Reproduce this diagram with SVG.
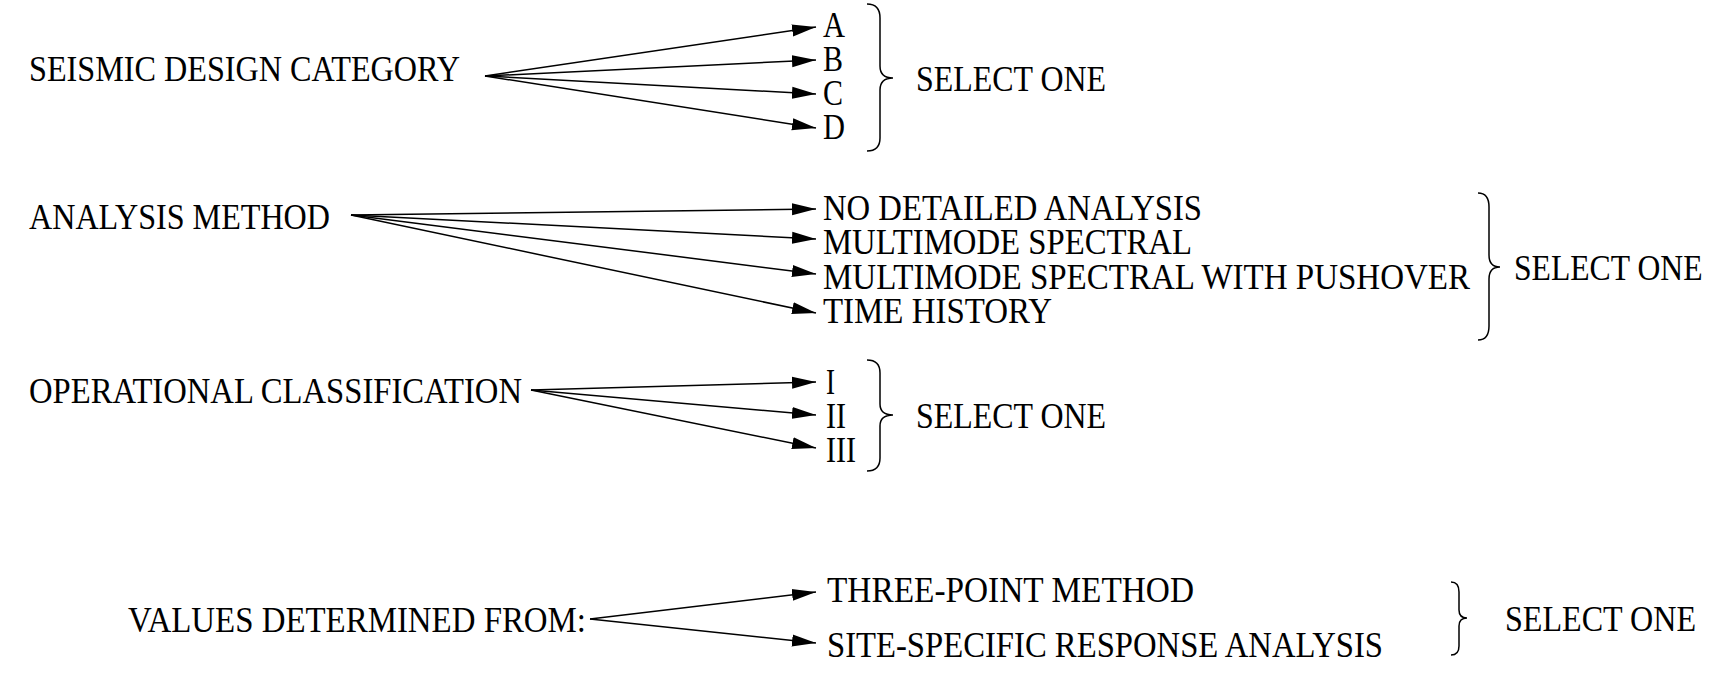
<svg xmlns="http://www.w3.org/2000/svg" width="1710" height="674" viewBox="0 0 1710 674">
<style>
text{font-family:"Liberation Serif","DejaVu Serif",serif;font-size:35px;fill:#000}
.c line{stroke:#000;stroke-width:1.5;fill:none}
.br{stroke:#000;stroke-width:1.5;fill:none}
</style>
<defs>
<marker id="ah" markerUnits="userSpaceOnUse" markerWidth="25" markerHeight="13" refX="24" refY="6.5" orient="auto">
<path d="M0,0.5 L24,6.5 L0,12.5 z" fill="#000"/>
</marker>
</defs>
<rect width="1710" height="674" fill="#fff"/>

<g id="connectors" class="c">
<line x1="485" y1="76" x2="816" y2="27" marker-end="url(#ah)"/>
<line x1="485" y1="76" x2="816" y2="60" marker-end="url(#ah)"/>
<line x1="485" y1="76" x2="816" y2="94" marker-end="url(#ah)"/>
<line x1="485" y1="76" x2="816" y2="128" marker-end="url(#ah)"/>
<line x1="351" y1="215" x2="816" y2="209" marker-end="url(#ah)"/>
<line x1="351" y1="215" x2="816" y2="239" marker-end="url(#ah)"/>
<line x1="351" y1="215" x2="816" y2="274" marker-end="url(#ah)"/>
<line x1="351" y1="215" x2="816" y2="313" marker-end="url(#ah)"/>
<line x1="531" y1="390" x2="816" y2="382" marker-end="url(#ah)"/>
<line x1="531" y1="390" x2="816" y2="415" marker-end="url(#ah)"/>
<line x1="531" y1="390" x2="816" y2="448" marker-end="url(#ah)"/>
<line x1="590" y1="619" x2="816" y2="592" marker-end="url(#ah)"/>
<line x1="590" y1="619" x2="816" y2="643" marker-end="url(#ah)"/>
</g>

<g id="seismic">
<text x="29" y="81" textLength="431" lengthAdjust="spacingAndGlyphs">SEISMIC DESIGN CATEGORY</text>
</g>
<g id="sdc-a"><text x="823" y="37" textLength="22" lengthAdjust="spacingAndGlyphs">A</text></g>
<g id="sdc-b"><text x="823" y="71" textLength="20" lengthAdjust="spacingAndGlyphs">B</text></g>
<g id="sdc-c"><text x="823" y="105" textLength="20" lengthAdjust="spacingAndGlyphs">C</text></g>
<g id="sdc-d"><text x="823" y="139" textLength="22" lengthAdjust="spacingAndGlyphs">D</text></g>
<g id="sdc-select">
<path class="br" d="M867,4 Q880,4 880,18 L880,66 Q880,78 893,78 Q880,78 880,90 L880,138 Q880,151 867,151"/>
<text x="916" y="91" textLength="190" lengthAdjust="spacingAndGlyphs">SELECT ONE</text>
</g>

<g id="analysis">
<text x="29" y="229" textLength="301" lengthAdjust="spacingAndGlyphs">ANALYSIS METHOD</text>
</g>
<g id="am-none"><text x="823" y="220" textLength="379" lengthAdjust="spacingAndGlyphs">NO DETAILED ANALYSIS</text></g>
<g id="am-multimode"><text x="823" y="254" textLength="369" lengthAdjust="spacingAndGlyphs">MULTIMODE SPECTRAL</text></g>
<g id="am-pushover"><text x="823" y="289" textLength="647" lengthAdjust="spacingAndGlyphs">MULTIMODE SPECTRAL WITH PUSHOVER</text></g>
<g id="am-time"><text x="823" y="323" textLength="229" lengthAdjust="spacingAndGlyphs">TIME HISTORY</text></g>
<g id="am-select">
<path class="br" d="M1478,193 Q1489,193 1489,207 L1489,255 Q1489,267 1500,267 Q1489,267 1489,279 L1489,326 Q1489,340 1478,340"/>
<text transform="translate(1514,280) scale(0.905,1)">SELECT ONE</text>
</g>

<g id="operational">
<text x="29" y="403" textLength="493" lengthAdjust="spacingAndGlyphs">OPERATIONAL CLASSIFICATION</text>
</g>
<g id="oc-1"><text x="826" y="394" textLength="9" lengthAdjust="spacingAndGlyphs">I</text></g>
<g id="oc-2"><text x="826" y="428" textLength="20" lengthAdjust="spacingAndGlyphs">II</text></g>
<g id="oc-3"><text x="826" y="462" textLength="30" lengthAdjust="spacingAndGlyphs">III</text></g>
<g id="oc-select">
<path class="br" d="M867,360 Q880,360 880,373 L880,404 Q880,415 893,415 Q880,415 880,426 L880,458 Q880,471 867,471"/>
<text x="916" y="428" textLength="190" lengthAdjust="spacingAndGlyphs">SELECT ONE</text>
</g>

<g id="values">
<text x="128" y="632" textLength="458" lengthAdjust="spacingAndGlyphs">VALUES DETERMINED FROM:</text>
</g>
<g id="v-three"><text x="827" y="602" textLength="367" lengthAdjust="spacingAndGlyphs">THREE-POINT METHOD</text></g>
<g id="v-site"><text x="827" y="657" textLength="556" lengthAdjust="spacingAndGlyphs">SITE-SPECIFIC RESPONSE ANALYSIS</text></g>
<g id="v-select">
<path class="br" d="M1451,582 Q1459,582 1459,592 L1459,610 Q1459,618 1467,618 Q1459,618 1459,626 L1459,646 Q1459,655 1451,655"/>
<text x="1505" y="631" textLength="191" lengthAdjust="spacingAndGlyphs">SELECT ONE</text>
</g>
</svg>
